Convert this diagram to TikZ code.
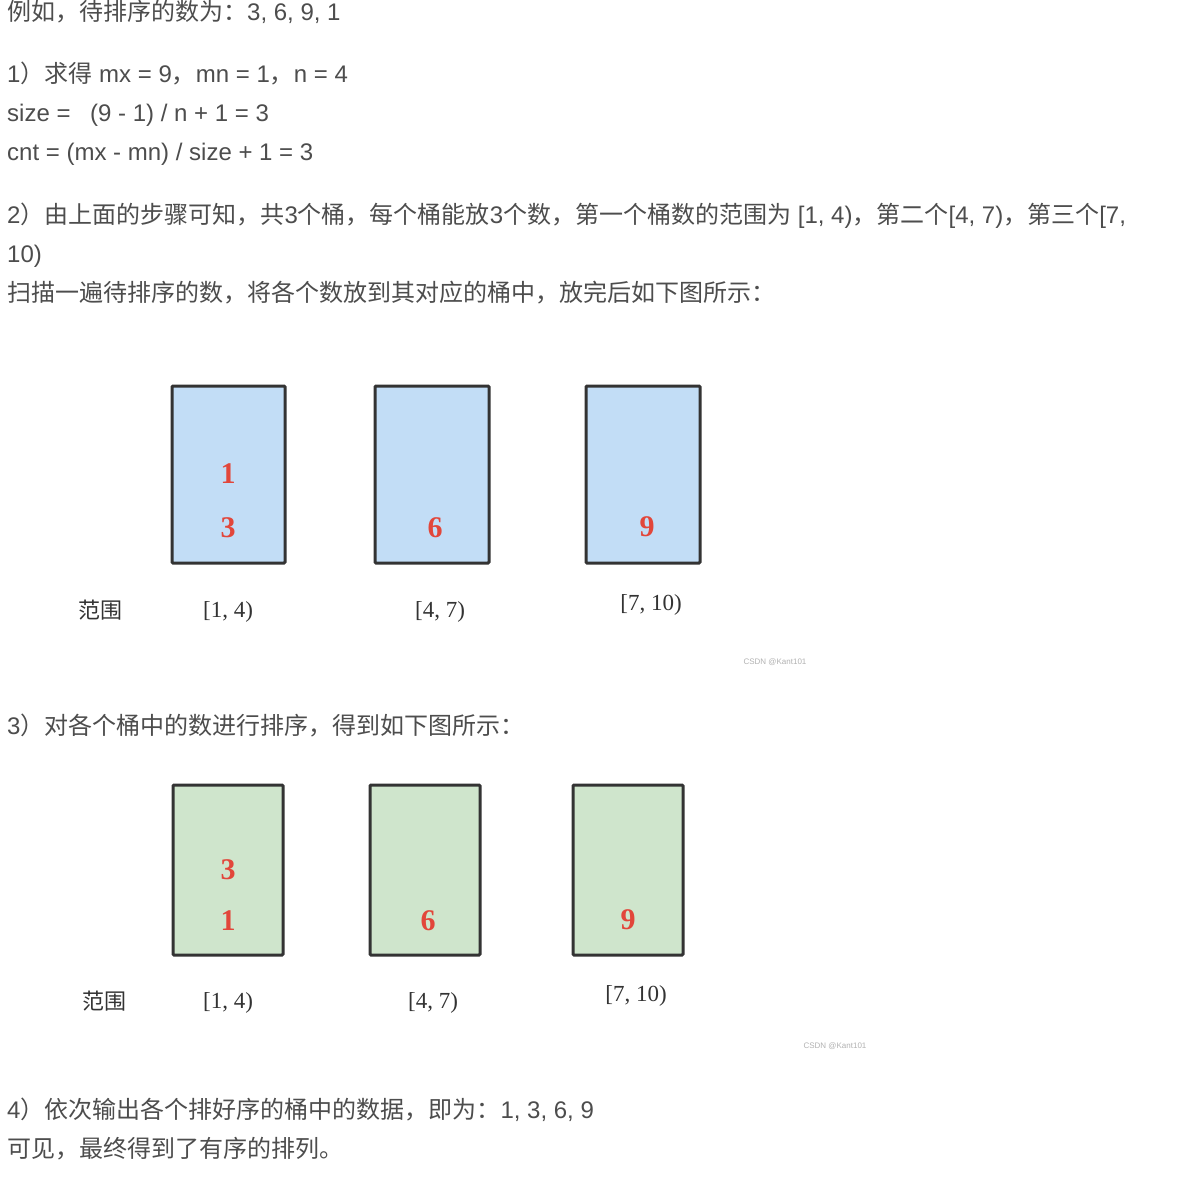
\documentclass[tikz,border=0pt]{standalone}
\usepackage{fontspec}
\usepackage{xcolor}
\setmainfont{Liberation Sans}
\newfontfamily\zhfont{Noto Sans CJK SC}
\newfontfamily\numfont{Liberation Serif}
\newcommand\zh[1]{{\zhfont #1}}
\usetikzlibrary{positioning}
\definecolor{txtgray}{HTML}{4D4D4D}
\definecolor{numred}{HTML}{E2463A}
\definecolor{edgegray}{HTML}{333333}
\definecolor{bucketblue}{HTML}{C2DDF6}
\definecolor{bucketgreen}{HTML}{CFE5CC}
\tikzset{
  txt/.style={anchor=base west, inner sep=0, text=txtgray, font=\fontsize{24}{28}\selectfont},
  bluebox/.style={draw=edgegray, line width=3, fill=bucketblue, rounded corners=1},
  greenbox/.style={draw=edgegray, line width=3, fill=bucketgreen, rounded corners=1},
  num/.style={anchor=base, inner sep=0, text=numred, font=\numfont\bfseries\fontsize{30}{30}\selectfont},
  rng/.style={anchor=base, inner sep=0, text=black!80, font=\numfont\fontsize{23}{23}\selectfont},
  rngzh/.style={anchor=base, inner sep=0, text=black!80, font=\zhfont\fontsize{22}{22}\selectfont},
  wmark/.style={anchor=center, inner sep=0, text=black!30, font=\fontsize{8}{8}\selectfont}
}
\begin{document}
\begin{tikzpicture}[x=1pt,y=-1pt]
  \useasboundingbox[fill=white] (0,0) rectangle (1190,1177);
  \node[txt] (intro) at (7,21) {\zh{例如，待排序的数为：}3, 6, 9, 1};
  \node[txt] (stepone) at (7,82.5) {1\zh{）求得} mx = 9\zh{，}mn = 1\zh{，}n = 4};
  \node[txt] (size) at (7,121.5) {size =\hspace*{13pt} (9 - 1) / n + 1 = 3};
  \node[txt] (cnt) at (7,160.5) {cnt = (mx - mn) / size + 1 = 3};
  \node[txt] (steptwo) at (7,223.5) {2\zh{）由上面的步骤可知，共}3\zh{个桶，每个桶能放}3\zh{个数，第一个桶数的范围为} [1, 4)\zh{，第二个}[4, 7)\zh{，第三个}[7,};
  \node[txt] (steptwob) at (7,262.5) {10)};
  \node[txt] (scan) at (7,301.5) {\zh{扫描一遍待排序的数，将各个数放到其对应的桶中，放完后如下图所示：}};
  \draw[bluebox] (172,386) rectangle (285,563);
  \draw[bluebox] (375,386) rectangle (489,563);
  \draw[bluebox] (586,386) rectangle (700,563);
  \node[num] (ba) at (228,483) {1};
  \node[num] (bb) at (228,537) {3};
  \node[num] (bc) at (435,537) {6};
  \node[num] (bd) at (647,536) {9};
  \node[rngzh] (rangea) at (100,618) {范围};
  \node[rng] (ra) at (228,617) {[1, 4)};
  \node[rng] (rb) at (440,617) {[4, 7)};
  \node[rng] (rc) at (651,610) {[7, 10)};
  \node[wmark] (marka) at (775,662) {CSDN @Kant101};
  \node[txt] (stepthree) at (7,734.5) {3\zh{）对各个桶中的数进行排序，得到如下图所示：}};
  \draw[greenbox] (173,785) rectangle (283,955);
  \draw[greenbox] (370,785) rectangle (480,955);
  \draw[greenbox] (573,785) rectangle (683,955);
  \node[num] (ga) at (228,879) {3};
  \node[num] (gb) at (228,930) {1};
  \node[num] (gc) at (428,930) {6};
  \node[num] (gd) at (628,929) {9};
  \node[rngzh] (rangeb) at (104,1009) {范围};
  \node[rng] (sa) at (228,1008) {[1, 4)};
  \node[rng] (sb) at (433,1008) {[4, 7)};
  \node[rng] (sc) at (636,1001) {[7, 10)};
  \node[wmark] (markb) at (835,1046) {CSDN @Kant101};
  \node[txt] (stepfour) at (7,1118.5) {4\zh{）依次输出各个排好序的桶中的数据，即为：}1, 3, 6, 9};
  \node[txt] (result) at (7,1157.5) {\zh{可见，最终得到了有序的排列。}};
\end{tikzpicture}
\end{document}
